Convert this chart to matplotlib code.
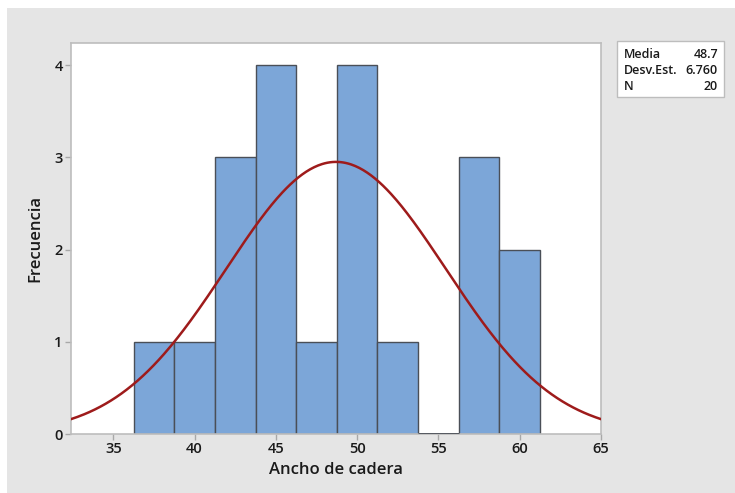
import numpy as np
import matplotlib
matplotlib.use("Agg")
import matplotlib.pyplot as plt
from matplotlib.patches import Rectangle

# Histogram of hip width (Ancho de cadera), 20 observations
bin_edges = [36.25, 38.75, 41.25, 43.75, 46.25, 48.75, 51.25, 53.75, 56.25, 58.75, 61.25]
counts = [1, 1, 3, 4, 1, 4, 1, 0, 3, 2]
media = 48.7
desv_est = 6.760
n_obs = 20
x_ticks = [35, 40, 45, 50, 55, 60, 65]
y_ticks = [0, 1, 2, 3, 4]

plt.rcParams['font.family'] = ['Open Sans', 'DejaVu Sans']

fig = plt.figure(figsize=(7.35, 4.93), dpi=100)
fig.patch.set_facecolor("white")
# grey panel behind the graph
fig.patches.append(Rectangle((7 / 735, 0), 1, 1 - 8 / 493, transform=fig.transFigure,
                             facecolor="#e5e5e5", edgecolor="none", zorder=-10))

ax = fig.add_axes([71 / 735, 1 - 434 / 493, (601 - 71) / 735, (434 - 43) / 493])
ax.set_facecolor("white")

x_lo, x_hi = 32.4, 65

widths = np.diff(bin_edges)
ax.bar(bin_edges[:-1], counts, width=widths, align="edge",
       color="#7ca6d8", edgecolor="#4a4f57", linewidth=1.0, zorder=2)
# empty bin shows as a line on the baseline
for left, w, c in zip(bin_edges[:-1], widths, counts):
    if c == 0:
        ax.plot([left, left + w], [0, 0], color="#4a4f57", lw=2.0, zorder=3,
                solid_capstyle="butt")

# fitted normal curve scaled to counts
bw = widths[0]
xs = np.linspace(x_lo, x_hi, 400)
ys = n_obs * bw / (desv_est * np.sqrt(2 * np.pi)) * np.exp(-0.5 * ((xs - media) / desv_est) ** 2)
ax.plot(xs, ys, color="#9e1b1b", lw=1.8, zorder=4)

ax.set_xlim(x_lo, x_hi)
ax.set_ylim(0, 4.24)
ax.set_xticks(x_ticks)
ax.set_yticks(y_ticks)
ax.set_xticklabels([str(t) for t in x_ticks], fontsize=10.5, fontweight="semibold", color="#1a1a1a")
ax.set_yticklabels([str(t) for t in y_ticks], fontsize=10.5, fontweight="semibold", color="#1a1a1a")
ax.tick_params(axis="both", direction="out", length=4, width=1, color="#a8a8a8", pad=2)
ax.tick_params(top=False, right=False)
for sp in ax.spines.values():
    sp.set_color("#bdbdbd")
    sp.set_linewidth(1.2)

ax.set_xlabel("Ancho de cadera", fontsize=12, fontweight="semibold", color="#1a1a1a", labelpad=4)
ax.set_ylabel("Frecuencia", fontsize=12, fontweight="semibold", color="#1a1a1a", labelpad=8)

# summary box
bx0, by0, bx1, by1 = 617, 41, 724, 97
fig.patches.append(Rectangle((bx0 / 735, 1 - by1 / 493), (bx1 - bx0) / 735, (by1 - by0) / 493,
                             transform=fig.transFigure, facecolor="white",
                             edgecolor="#bdbdbd", lw=1.0, zorder=5))
rows = [("Media", f"{media:.1f}"), ("Desv.Est.", f"{desv_est:.3f}"), ("N", f"{n_obs}")]
for i, (lab, val) in enumerate(rows):
    yy = 1 - (54 + i * 16) / 493
    fig.text(624 / 735, yy, lab, fontsize=9, fontweight="semibold", va="center", ha="left",
             color="#1a1a1a", zorder=6)
    fig.text(718 / 735, yy, val, fontsize=9, fontweight="semibold", va="center", ha="right",
             color="#1a1a1a", zorder=6)

fig.savefig("out.png", dpi=100)
